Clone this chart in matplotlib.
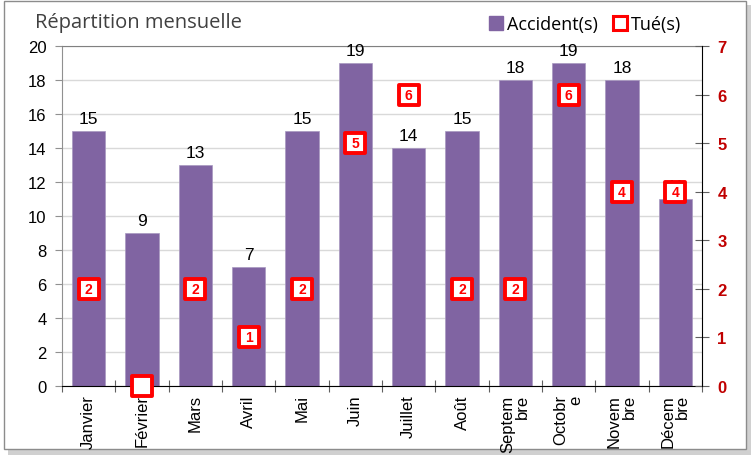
import matplotlib
matplotlib.use("Agg")
import matplotlib.pyplot as plt
from matplotlib.lines import Line2D
from matplotlib.patches import Rectangle

months = ["Janvier", "Février", "Mars", "Avril", "Mai", "Juin", "Juillet", "Août",
          "Septem\nbre", "Octobr\ne", "Novem\nbre", "Décem\nbre"]
accidents = [15, 9, 13, 7, 15, 19, 14, 15, 18, 19, 18, 11]
tues = [2, 0, 2, 1, 2, 5, 6, 2, 2, 6, 4, 4]
left_ticks = list(range(0, 21, 2))
right_ticks = list(range(0, 8))

W, H = 751, 456
fig = plt.figure(figsize=(W / 100, H / 100), dpi=100)
fig.patch.set_facecolor("white")

# outer frame with shadow
fig.patches.append(Rectangle((746 / W, 2 / H), 5 / W, 448 / H, transform=fig.transFigure,
                             facecolor="#d0d0d0", edgecolor="none", zorder=-3))
fig.patches.append(Rectangle((8 / W, 0), 743 / W, 6 / H, transform=fig.transFigure,
                             facecolor="#d0d0d0", edgecolor="none", zorder=-3))
fig.patches.append(Rectangle((4 / W, 6 / H), 742 / W, 448 / H, transform=fig.transFigure,
                             facecolor="white", edgecolor="#8c8c8c", lw=1.0, zorder=-2))

ax = fig.add_axes([62 / W, 1 - 387 / H, 640 / W, 340 / H])
ax.set_zorder(1)
ax.set_facecolor("none")
x = list(range(len(months)))
bars = ax.bar(x, accidents, width=0.63, color="#8064A2", edgecolor="#a898c0", lw=0.5, zorder=2)
ax.set_xlim(-0.5, len(months) - 0.5)
ax.set_ylim(0, 20)
ax.set_yticks(left_ticks)
ax.set_yticklabels([str(t) for t in left_ticks], fontsize=12, family="Liberation Sans")
ax.yaxis.grid(True, color="#d9d9d9", lw=1, zorder=0)
ax.set_axisbelow(True)
for v, xi in zip(accidents, x):
    ax.text(xi, v + 0.3, str(v), ha="center", va="bottom", fontsize=12.5,
            family="Liberation Sans", color="black", zorder=3)

ax.set_xticks([i - 0.5 for i in range(len(months) + 1)], minor=False)
ax.set_xticklabels([])
ax.tick_params(axis="x", which="major", direction="inout", length=8, color="#606060")
ax.set_xticks(x, minor=True)
ax.set_xticklabels(months, minor=True, rotation=90, fontsize=12, family="Liberation Sans",
                   va="top", ha="center", multialignment="right", linespacing=1.0)
ax.tick_params(axis="x", which="minor", length=0, pad=6)
ax.tick_params(axis="y", direction="out", length=5, color="#909090", pad=6)
ax.spines["left"].set_color("#909090")
ax.spines["top"].set_color("#808080")
ax.spines["right"].set_visible(False)
ax.spines["bottom"].set_color("black")

ax2 = ax.twinx()
ax2.set_zorder(2)
ax2.set_ylim(0, 7)
ax2.set_yticks(right_ticks)
ax2.set_yticklabels([str(t) for t in right_ticks], fontsize=12, fontweight="bold",
                    family="Liberation Sans", color="#c00000")
ax2.tick_params(axis="y", direction="inout", length=10, color="#606060", pad=6)
for s in ["left", "top", "bottom"]:
    ax2.spines[s].set_visible(False)
ax2.spines["right"].set_color("black")
ax2.scatter(x, tues, marker="s", s=190, facecolor="white", edgecolor="#ff0000",
            linewidths=2.8, zorder=5, clip_on=False)
for v, xi in zip(tues, x):
    if v > 0:
        ax2.text(xi, v, str(v), ha="center", va="center", fontsize=10, fontweight="bold",
                 family="Liberation Sans", color="#ff0000", zorder=6)

fig.text(35 / W, 1 - 23 / H, "Répartition mensuelle", fontsize=14.5, family="Open Sans",
         color="#404040", ha="left", va="center")

handles = [
    Line2D([], [], marker="s", ls="none", markersize=10, markerfacecolor="#8064A2",
           markeredgecolor="#8064A2"),
    Line2D([], [], marker="s", ls="none", markersize=10, markerfacecolor="white",
           markeredgecolor="#ff0000", markeredgewidth=2.2),
]
fig.legend(handles, ["Accident(s)", "Tué(s)"], loc="center right",
           bbox_to_anchor=(688 / W, 1 - 25 / H), ncol=2, frameon=False,
           prop={"family": "Open Sans", "size": 13}, handlelength=0.8, handletextpad=0.2,
           columnspacing=0.8, borderaxespad=0)

fig.savefig("out.png", dpi=100)
